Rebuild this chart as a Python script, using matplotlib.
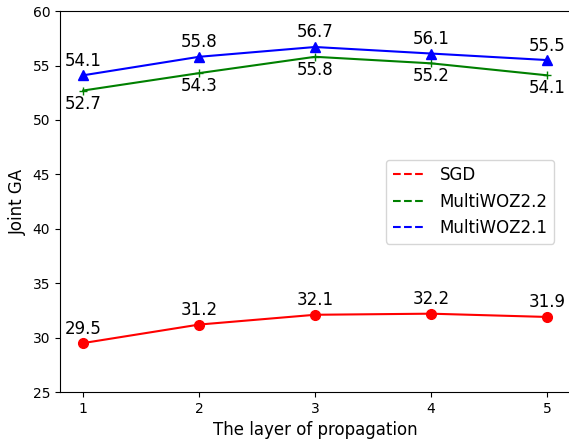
import matplotlib
matplotlib.use("Agg")
import matplotlib.pyplot as plt
from matplotlib.lines import Line2D

layers = [1, 2, 3, 4, 5]
sgd = [29.5, 31.2, 32.1, 32.2, 31.9]
woz22 = [52.7, 54.3, 55.8, 55.2, 54.1]
woz21 = [54.1, 55.8, 56.7, 56.1, 55.5]

fig = plt.figure(figsize=(5.69, 4.43), dpi=100)
ax = fig.add_axes([0.1054, 0.115, 0.8966, 0.86])

ax.plot(layers, sgd, color="red", marker="o", markersize=7)
ax.plot(layers, woz22, color="green", marker="+", markersize=6)
ax.plot(layers, woz21, color="blue", marker="^", markersize=7)

# value labels
for x, y in zip(layers, sgd):
    ax.annotate(f"{y}", (x, y), textcoords="offset points", xytext=(0, 4),
                ha="center", va="bottom", fontsize=12)
for x, y in zip(layers, woz21):
    ax.annotate(f"{y}", (x, y), textcoords="offset points", xytext=(0, 4),
                ha="center", va="bottom", fontsize=12)
for x, y in zip(layers, woz22):
    ax.annotate(f"{y}", (x, y), textcoords="offset points", xytext=(0, -3),
                ha="center", va="top", fontsize=12)

handles = [Line2D([], [], color="red", linestyle="--"),
           Line2D([], [], color="green", linestyle="--"),
           Line2D([], [], color="blue", linestyle="--")]
ax.legend(handles, ["SGD", "MultiWOZ2.2", "MultiWOZ2.1"], loc="center right",
          fontsize=12, bbox_to_anchor=(0.985, 0.5))

ax.set_ylim(25, 60)
ax.set_xticks(layers)
ax.tick_params(labelsize=10)
ax.set_xlabel("The layer of propagation", fontsize=12)
ax.set_ylabel("Joint GA", fontsize=12)

plt.savefig("out.png", dpi=100)
